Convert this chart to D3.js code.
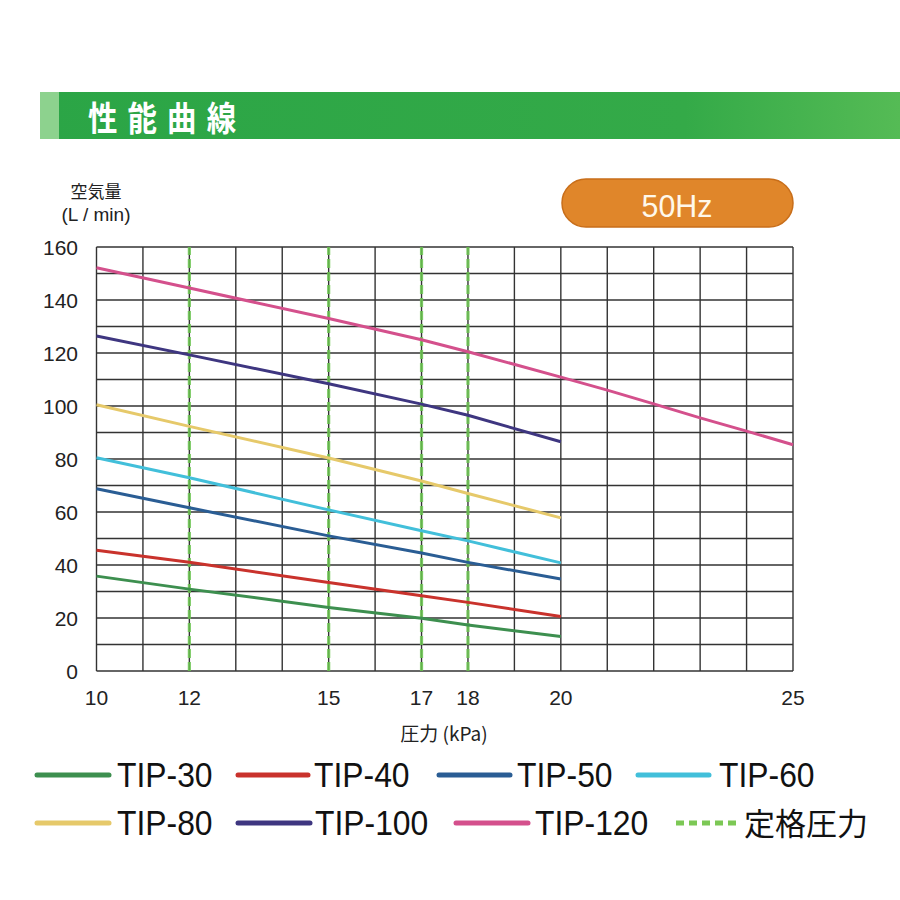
<!DOCTYPE html>
<html>
<head>
<meta charset="utf-8">
<script src="https://cdn.jsdelivr.net/npm/d3@7"></script>
<style>
  html, body { margin: 0; padding: 0; background: #fff; }
  svg { display: block; }
</style>
</head>
<body>
<div id="chart"></div>
<script>
// pressure points (kPa)
var pressures = [10, 12, 15, 17, 18, 20];
var pressures120 = [10, 12, 15, 17, 18, 20, 21, 22, 23, 24, 25];

// air flow (L/min) per model
var tip30 = [35.8, 30.9, 24.0, 19.9, 17.4, 13.0];
var tip40 = [45.6, 41.0, 33.4, 28.4, 25.9, 20.6];
var tip50 = [68.8, 61.6, 51.0, 44.5, 41.0, 34.7];
var tip60 = [80.5, 72.9, 60.8, 52.9, 49.1, 40.8];
var tip80 = [100.5, 92.3, 80.4, 71.7, 67.0, 57.8];
var tip100 = [126.4, 119.3, 108.4, 100.7, 96.5, 86.5];
var tip120 = [152.2, 144.5, 133.0, 125.0, 120.5, 110.9, 106.0, 100.8, 95.5, 90.5, 85.4];

var modelNames = ["TIP-30", "TIP-40", "TIP-50", "TIP-60", "TIP-80", "TIP-100", "TIP-120"];
var modelColors = ["#3d8f4f", "#c9322c", "#2a5d94", "#42bfda", "#e6c96a", "#3e3680", "#d4508c"];

var ratedPressures = [12, 15, 17, 18];
var xTickValues = [10, 12, 15, 17, 18, 20, 25];
var yTickValues = [0, 20, 40, 60, 80, 100, 120, 140, 160];

var series = [
  {name: modelNames[0], x: pressures, y: tip30, color: modelColors[0]},
  {name: modelNames[1], x: pressures, y: tip40, color: modelColors[1]},
  {name: modelNames[2], x: pressures, y: tip50, color: modelColors[2]},
  {name: modelNames[3], x: pressures, y: tip60, color: modelColors[3]},
  {name: modelNames[4], x: pressures, y: tip80, color: modelColors[4]},
  {name: modelNames[5], x: pressures, y: tip100, color: modelColors[5]},
  {name: modelNames[6], x: pressures120, y: tip120, color: modelColors[6]}
];

var width = 900, height = 900;
var svg = d3.select("#chart").append("svg")
    .attr("width", width)
    .attr("height", height);

var defs = svg.append("defs");
var grad = defs.append("linearGradient").attr("id", "bar");
grad.append("stop").attr("offset", "0%").attr("stop-color", "#2ba546");
grad.append("stop").attr("offset", "75%").attr("stop-color", "#34aa48");
grad.append("stop").attr("offset", "100%").attr("stop-color", "#55bb55");

// header bar
svg.append("rect").attr("x", 40).attr("y", 92).attr("width", 860).attr("height", 47)
    .attr("fill", "url(#bar)");
svg.append("rect").attr("x", 40).attr("y", 92).attr("width", 19).attr("height", 47)
    .attr("fill", "#8dd28e");
svg.append("text")
    .attr("transform", "translate(88,131) scale(0.92,1.08)")
    .attr("fill", "#fff")
    .attr("font-family", "'Noto Sans CJK JP', sans-serif")
    .attr("font-weight", "bold")
    .attr("font-size", 32)
    .attr("letter-spacing", 11)
    .text("性能曲線");

// 50Hz badge
svg.append("rect").attr("x", 562).attr("y", 179).attr("width", 231).attr("height", 48)
    .attr("rx", 24).attr("fill", "#e0862a").attr("stroke", "#c86e1a").attr("stroke-width", 1.5);
svg.append("text")
    .attr("transform", "translate(677,217) scale(0.95,1)")
    .attr("text-anchor", "middle")
    .attr("fill", "#fff8ea")
    .attr("font-family", "'Liberation Sans', Arial, sans-serif")
    .attr("font-size", 32)
    .text("50Hz");

var x = d3.scaleLinear().domain([10, 25]).range([96.5, 793]);
var y = d3.scaleLinear().domain([0, 160]).range([671, 247]);

var plot = svg.append("g");

// grid
plot.selectAll("line.vgrid")
    .data(d3.range(10, 26))
    .enter().append("line")
    .attr("x1", function(d){ return x(d); })
    .attr("x2", function(d){ return x(d); })
    .attr("y1", y(0)).attr("y2", y(160))
    .attr("stroke", "#333").attr("stroke-width", 1.4);

plot.selectAll("line.hgrid")
    .data(d3.range(0, 170, 10))
    .enter().append("line")
    .attr("x1", x(10)).attr("x2", x(25))
    .attr("y1", function(d){ return y(d); })
    .attr("y2", function(d){ return y(d); })
    .attr("stroke", "#333").attr("stroke-width", 1.4);

// rated pressure lines
plot.selectAll("line.rated")
    .data(ratedPressures)
    .enter().append("line")
    .attr("x1", function(d){ return x(d); })
    .attr("x2", function(d){ return x(d); })
    .attr("y1", y(0)).attr("y2", y(160))
    .attr("stroke", "#6cc651").attr("stroke-width", 3.2)
    .attr("stroke-dasharray", "9,4")
    .attr("opacity", 0.85);

// curves
var line = d3.line()
    .x(function(d){ return x(d[0]); })
    .y(function(d){ return y(d[1]); });

plot.selectAll("path.curve")
    .data(series)
    .enter().append("path")
    .attr("fill", "none")
    .attr("stroke", function(d){ return d.color; })
    .attr("stroke-width", 3)
    .attr("d", function(d){ return line(d3.zip(d.x, d.y)); });

// axes labels
var tickFont = "'Liberation Sans', Arial, sans-serif";
svg.selectAll("text.ytick")
    .data(yTickValues)
    .enter().append("text")
    .attr("x", 78)
    .attr("y", function(d){ return y(d) + 7.5; })
    .attr("text-anchor", "end")
    .attr("font-family", tickFont)
    .attr("font-size", 21)
    .attr("fill", "#222")
    .text(function(d){ return d; });

svg.selectAll("text.xtick")
    .data(xTickValues)
    .enter().append("text")
    .attr("x", function(d){ return x(d); })
    .attr("y", 705)
    .attr("text-anchor", "middle")
    .attr("font-family", tickFont)
    .attr("font-size", 21)
    .attr("fill", "#222")
    .text(function(d){ return d; });

svg.append("text")
    .attr("x", 96).attr("y", 198)
    .attr("text-anchor", "middle")
    .attr("font-family", "'Noto Sans CJK JP', sans-serif")
    .attr("font-size", 17).attr("fill", "#222")
    .text("空気量");
svg.append("text")
    .attr("x", 96).attr("y", 221)
    .attr("text-anchor", "middle")
    .attr("font-family", tickFont)
    .attr("font-size", 19).attr("fill", "#222")
    .text("(L / min)");
svg.append("text")
    .attr("x", 444).attr("y", 741)
    .attr("text-anchor", "middle")
    .attr("font-family", "'Noto Sans CJK JP', sans-serif")
    .attr("font-size", 19).attr("fill", "#222")
    .text("圧力 (kPa)");

// legend
var legendItems = [
  {name: modelNames[0], color: modelColors[0], sx: 37, sw: 72, tx: 117, ty: 775},
  {name: modelNames[1], color: modelColors[1], sx: 238, sw: 70, tx: 314, ty: 775},
  {name: modelNames[2], color: modelColors[2], sx: 439, sw: 71, tx: 517, ty: 775},
  {name: modelNames[3], color: modelColors[3], sx: 638, sw: 71, tx: 719, ty: 775},
  {name: modelNames[4], color: modelColors[4], sx: 37, sw: 72, tx: 117, ty: 823},
  {name: modelNames[5], color: modelColors[5], sx: 238, sw: 72, tx: 315, ty: 823},
  {name: modelNames[6], color: modelColors[6], sx: 456, sw: 72, tx: 535, ty: 823},
  {name: "定格圧力", color: "#7cc855", sx: 676, sw: 60, tx: 744, ty: 823, dashed: true}
];

var legend = svg.append("g");
legend.selectAll("line")
    .data(legendItems)
    .enter().append("line")
    .attr("x1", function(d){ return d.sx; })
    .attr("x2", function(d){ return d.sx + d.sw; })
    .attr("y1", function(d){ return d.ty; })
    .attr("y2", function(d){ return d.ty; })
    .attr("stroke", function(d){ return d.color; })
    .attr("stroke-width", 5)
    .attr("stroke-linecap", function(d){ return d.dashed ? "butt" : "round"; })
    .attr("stroke-dasharray", function(d){ return d.dashed ? "8,5" : null; });

legend.selectAll("text")
    .data(legendItems)
    .enter().append("text")
    .attr("transform", function(d){
      return "translate(" + d.tx + "," + (d.ty + 12) + ")" + (d.dashed ? "" : " scale(0.91,1)");
    })
    .attr("font-family", function(d){
      return d.dashed ? "'Noto Sans CJK JP', sans-serif" : tickFont;
    })
    .attr("font-size", function(d){ return d.dashed ? 31 : 35; })
    .attr("fill", "#111")
    .text(function(d){ return d.name; });
</script>
</body>
</html>
